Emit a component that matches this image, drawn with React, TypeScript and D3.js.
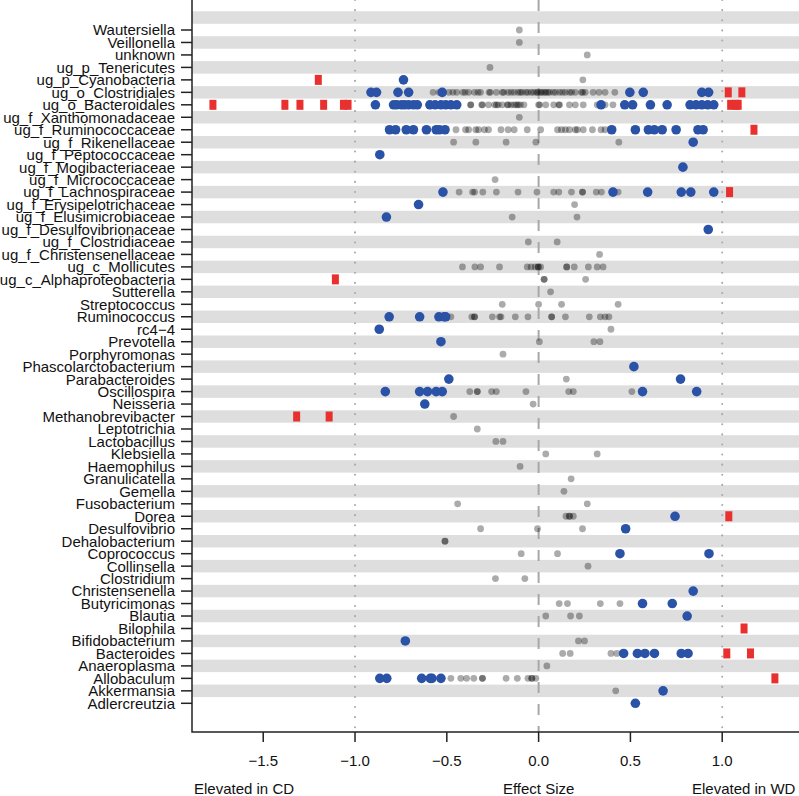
import React from "react";
import * as d3 from "d3";

const categories = [
  "Wautersiella", "Veillonella", "unknown", "ug_p_Tenericutes", "ug_p_Cyanobacteria",
  "ug_o_Clostridiales", "ug_o_Bacteroidales", "ug_f_Xanthomonadaceae", "ug_f_Ruminococcaceae",
  "ug_f_Rikenellaceae", "ug_f_Peptococcaceae", "ug_f_Mogibacteriaceae", "ug_f_Micrococcaceae",
  "ug_f_Lachnospiraceae", "ug_f_Erysipelotrichaceae", "ug_f_Elusimicrobiaceae",
  "ug_f_Desulfovibrionaceae", "ug_f_Clostridiaceae", "ug_f_Christensenellaceae", "ug_c_Mollicutes",
  "ug_c_Alphaproteobacteria", "Sutterella", "Streptococcus", "Ruminococcus", "rc4\u22124", "Prevotella",
  "Porphyromonas", "Phascolarctobacterium", "Parabacteroides", "Oscillospira", "Neisseria",
  "Methanobrevibacter", "Leptotrichia", "Lactobacillus", "Klebsiella", "Haemophilus", "Granulicatella",
  "Gemella", "Fusobacterium", "Dorea", "Desulfovibrio", "Dehalobacterium", "Coprococcus", "Collinsella",
  "Clostridium", "Christensenella", "Butyricimonas", "Blautia", "Bilophila", "Bifidobacterium",
  "Bacteroides", "Anaeroplasma", "Allobaculum", "Akkermansia", "Adlercreutzia",
];

// non-significant effects (gray)
const grayValues: number[][] = [
  [-0.105],
  [-0.105],
  [0.265],
  [-0.265],
  [0.241],
  [-0.575, -0.543, -0.489, -0.467, -0.446, -0.413, -0.4, -0.381, -0.349, -0.33, -0.316, -0.27, -0.263, -0.23, -0.198, -0.19,
   -0.166, -0.15, -0.133, -0.112, -0.1, -0.09, -0.07, -0.058, -0.04, -0.026, -0.01, -0.004, 0.01, 0.017, 0.03, 0.039,
   0.05, 0.06, 0.08, 0.093, 0.114, 0.13, 0.146, 0.168, 0.18, 0.2, 0.233, 0.24, 0.254, 0.297, 0.329, 0.362, 0.415],
  [-0.37, -0.37, -0.31, -0.306, -0.273, -0.24, -0.23, -0.22, -0.198, -0.17, -0.166, -0.15, -0.133, -0.12, -0.112, -0.1,
   -0.08, 0.0, 0.006, 0.039, 0.082, 0.11, 0.114, 0.168, 0.2, 0.243, 0.319, 0.362, 0.405],
  [-0.105],
  [-0.45, -0.398, -0.381, -0.342, -0.327, -0.295, -0.273, -0.205, -0.166, -0.133, -0.062, 0.011, 0.103, 0.125, 0.146,
   0.168, 0.2, 0.211, 0.243, 0.293, 0.34, 0.362],
  [-0.463, -0.342, -0.177, -0.015, 0.437],
  [],
  [],
  [-0.237],
  [-0.433, -0.36, -0.349, -0.304, -0.23, -0.112, -0.009, 0.082, 0.11, 0.179, 0.239, 0.239, 0.314, 0.342, 0.433],
  [0.196],
  [-0.144, 0.209],
  [],
  [-0.056, 0.101],
  [0.332],
  [-0.415, -0.347, -0.316, -0.213, -0.062, -0.041, -0.019, -0.002, -0.002, 0.011, 0.153, 0.153, 0.194, 0.271, 0.319, 0.351],
  [0.03, 0.03, 0.256],
  [0.065],
  [-0.198, 0.0, 0.125, 0.433],
  [-0.478, -0.364, -0.349, -0.349, -0.252, -0.213, -0.205, -0.127, -0.058, 0.071, 0.071, 0.146, 0.276, 0.336, 0.362, 0.383],
  [0.394],
  [0.004, 0.301, 0.334],
  [-0.194],
  [],
  [0.151],
  [-0.375, -0.334, -0.334, -0.256, -0.23, -0.069, 0.164, 0.189, 0.508],
  [-0.03],
  [-0.463],
  [-0.334],
  [-0.233, -0.194],
  [0.039, 0.319],
  [-0.101],
  [0.177],
  [0.138],
  [-0.441, 0.265],
  [0.149, 0.168, 0.168, 0.189],
  [-0.316, -0.006, 0.239],
  [-0.51, -0.51],
  [-0.095, 0.103],
  [0.269],
  [-0.235, -0.075],
  [],
  [0.112, 0.157, 0.336, 0.443],
  [0.039, 0.174, 0.222],
  [],
  [0.217, 0.25],
  [0.131, 0.172, 0.394, 0.426],
  [0.045],
  [-0.478, -0.424, -0.392, -0.353, -0.306, -0.306, -0.177, -0.116, -0.058, -0.037, -0.037, -0.015],
  [0.42],
  [],
];

// significant effects (blue)
const blueValues: number[][] = [
  [], [], [], [],
  [-0.736],
  [-0.913, -0.883, -0.766, -0.708, -0.525, 0.497, 0.57, 0.889, 0.926],
  [-0.889, -0.79, -0.773, -0.747, -0.73, -0.708, -0.682, -0.661, -0.592, -0.564, -0.532, -0.506, -0.478, -0.446,
   0.34, 0.469, 0.512, 0.609, 0.7, 0.825, 0.857, 0.889, 0.921, 0.954],
  [],
  [-0.812, -0.779, -0.721, -0.682, -0.611, -0.558, -0.54, -0.51, 0.398, 0.527, 0.598, 0.63, 0.673, 0.749, 0.868, 0.896],
  [0.842],
  [-0.865],
  [0.786],
  [],
  [-0.521, 0.405, 0.594, 0.777, 0.829, 0.954],
  [-0.654],
  [-0.829],
  [0.924],
  [], [], [], [], [], [],
  [-0.814, -0.648, -0.543, -0.515, -0.506],
  [-0.868],
  [-0.532],
  [],
  [0.519],
  [-0.489, 0.773],
  [-0.835, -0.648, -0.605, -0.558, -0.525, 0.566, 0.861],
  [-0.62],
  [], [], [], [], [], [], [], [],
  [0.743],
  [0.474],
  [],
  [0.443, 0.928],
  [], [],
  [0.842],
  [0.566, 0.728],
  [0.809],
  [],
  [-0.726],
  [0.463, 0.538, 0.579, 0.631, 0.777, 0.814],
  [],
  [-0.865, -0.827, -0.637, -0.59, -0.581, -0.532],
  [0.678],
  [0.527],
];

// large effects (red)
const redValues: number[][] = [
  [], [], [], [],
  [-1.2],
  [1.033, 1.107],
  [-1.774, -1.382, -1.3, -1.171, -1.063, -1.038, 1.046, 1.072, 1.087],
  [],
  [1.173],
  [], [], [], [],
  [1.04],
  [], [], [], [], [], [],
  [-1.107],
  [], [], [], [], [], [], [], [], [], [],
  [-1.318, -1.141],
  [], [], [], [], [], [], [],
  [1.036],
  [], [], [], [], [], [], [], [],
  [1.119],
  [],
  [1.025, 1.154],
  [],
  [1.287],
  [], [],
];

const xTicks = [-1.5, -1.0, -0.5, 0.0, 0.5, 1.0];
const refLinesDotted = [-1, 1];
const xAxisTitle = "Effect Size";
const leftNote = "Elevated in CD";
const rightNote = "Elevated in WD";

const W = 799;
const H = 796;
const left = 192;
const right = 814;
const top = -10;
const bottom = 732;
const FONT = "'Liberation Sans', Arial, Helvetica, sans-serif";

export default function App() {
  const x = d3.scaleLinear().domain([-1.888, 1.5]).range([left, right]);
  const y = d3.scaleLinear().domain([0, categories.length - 1]).range([30, 703.3]);
  const step = y(1) - y(0);
  const n = categories.length;
  const stripeRows = d3.range(-1, n).filter((k) => (n - 1 - k) % 2 === 1);
  const fmt = (v: number) => (v < 0 ? "\u2212" : "") + d3.format(".1f")(Math.abs(v));

  return (
    <svg
      width={W}
      height={H}
      style={{ position: "absolute", left: 0, top: 0, background: "#fff" }}
      fontFamily={FONT}
    >
      <rect x={0} y={0} width={W} height={H} fill="#fff" />
      {stripeRows.map((k) => (
        <rect key={"s" + k} x={left} width={right - left} y={y(k) - step / 2} height={step} fill="#dedede" />
      ))}
      {refLinesDotted.map((v) => (
        <line
          key={"d" + v}
          x1={x(v)}
          x2={x(v)}
          y1={0}
          y2={bottom}
          stroke="#a8a8a8"
          strokeWidth={2}
          strokeDasharray="0.1,10"
          strokeLinecap="round"
        />
      ))}
      <line x1={x(0)} x2={x(0)} y1={0} y2={bottom} stroke="#a8a8a8" strokeWidth={2} strokeDasharray="11,11" />

      {grayValues.map((vals, i) =>
        vals.map((v, j) => (
          <circle key={`g${i}-${j}`} cx={x(v)} cy={y(i)} r={3.4} fill="#000" fillOpacity={0.33} />
        ))
      )}
      {blueValues.map((vals, i) =>
        vals.map((v, j) => <circle key={`b${i}-${j}`} cx={x(v)} cy={y(i)} r={4.8} fill="#2a52a6" />)
      )}
      {redValues.map((vals, i) =>
        vals.map((v, j) => (
          <rect key={`r${i}-${j}`} x={x(v) - 3.5} y={y(i) - 5} width={7} height={10} fill="#e8312f" />
        ))
      )}

      {/* box */}
      <rect x={left} y={top} width={right - left} height={bottom - top} fill="none" stroke="#222" strokeWidth={1.5} />

      {/* y axis ticks + labels */}
      {categories.map((c, i) => (
        <g key={"yl" + i}>
          <line x1={left - 11} x2={left} y1={y(i)} y2={y(i)} stroke="#222" strokeWidth={1.5} />
          <text x={175} y={y(i)} dy="0.36em" textAnchor="end" fontSize={15} fill="#111">
            {c}
          </text>
        </g>
      ))}

      {/* x axis */}
      {xTicks.map((t) => (
        <g key={"xt" + t}>
          <line x1={x(t)} x2={x(t)} y1={bottom} y2={bottom + 10} stroke="#222" strokeWidth={1.5} />
          <text x={x(t)} y={766} textAnchor="middle" fontSize={15} fill="#111">
            {fmt(t)}
          </text>
        </g>
      ))}
      <text x={194} y={794} fontSize={15} fill="#111">{leftNote}</text>
      <text x={x(0)} y={794} textAnchor="middle" fontSize={15} fill="#111">{xAxisTitle}</text>
      <text x={692} y={794} fontSize={15} fill="#111">{rightNote}</text>
    </svg>
  );
}
